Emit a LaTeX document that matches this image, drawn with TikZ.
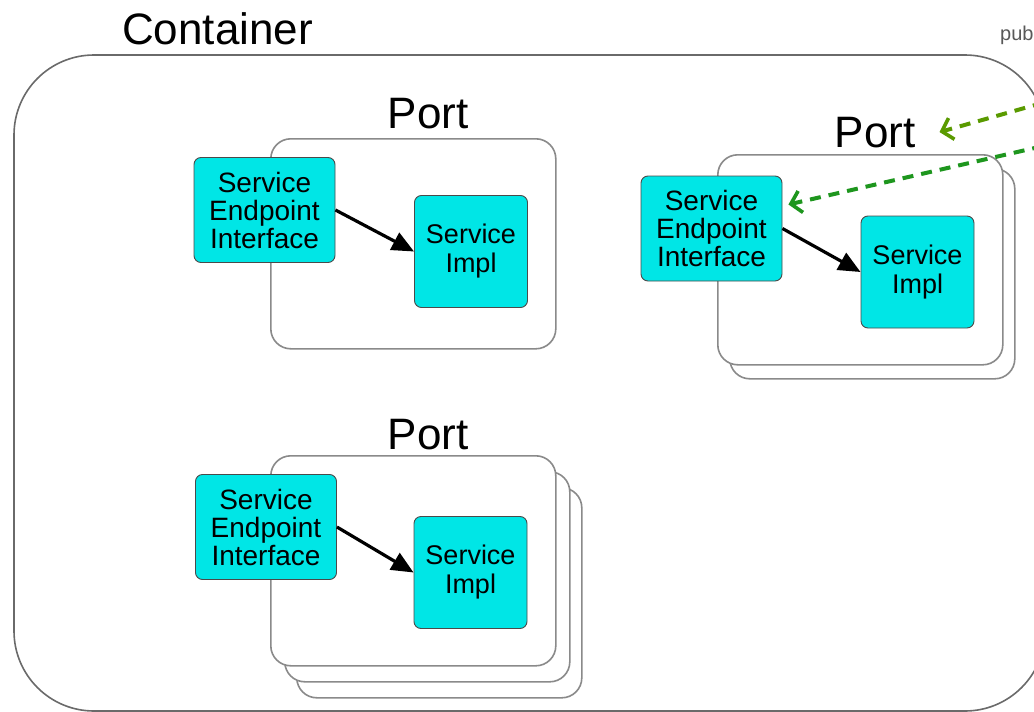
\documentclass[tikz,border=0pt]{standalone}
\usepackage{fontspec}
\setmainfont{Liberation Sans}
\usetikzlibrary{arrows.meta}

\definecolor{boxcyan}{HTML}{00E6E6}
\definecolor{boxedge}{HTML}{4A4A4A}
\definecolor{portedge}{HTML}{8A8A8A}
\definecolor{contedge}{HTML}{6A6A6A}
\definecolor{olivegreen}{HTML}{5A9A00}
\definecolor{linkgreen}{HTML}{1E961E}

\tikzset{
  container/.style={draw=contedge, line width=1.6pt, rounded corners=80pt},
  portbox/.style={draw=portedge, line width=1.6pt, fill=white, rounded corners=20pt,
    minimum width=285pt, minimum height=210pt, inner sep=0pt, anchor=north west},
  portlabel/.style={font=\fontsize{44}{44}\selectfont, anchor=base, inner sep=0pt},
  svcbox/.style={draw=boxedge, line width=0.9pt, fill=boxcyan, rounded corners=7pt,
    align=center, inner sep=0pt},
  seibox/.style={svcbox, minimum width=141pt, minimum height=105pt,
    font=\fontsize{28}{28}\selectfont},
  implbox/.style={svcbox, minimum width=113pt, minimum height=112pt,
    font=\fontsize{27}{29}\selectfont},
  calls/.style={-{Triangle[length=22pt,width=19pt]}, line width=3.2pt, black},
  publink/.style={dashed, dash pattern=on 11pt off 8pt, line width=4pt,
    -{Straight Barb[length=10pt,width=22pt,line width=3.6pt]}}
}

\begin{document}
\begin{tikzpicture}[x=1pt,y=-1pt]
\useasboundingbox (0,0) rectangle (1034,712);
\clip (0,0) rectangle (1034,712);
\fill[white] (0,0) rectangle (1034,712);

% outer container
\draw[container] (14,55) rectangle (1045,711);
\node[anchor=base west, inner sep=0pt, font=\fontsize{44}{44}\selectfont] (contlabel) at (122,44) {Container};
\node[anchor=base west, inner sep=0pt, text=black!65, font=\fontsize{20}{20}\selectfont] (publabel) at (1000,40) {pub};

% port 1 (single)
\node[portbox] (port1) at (270,138) {};
\node[portlabel] (port1label) at (428,128) {Port};
\node[seibox] (sei1) at (264.5,210) {Service\\Endpoint\\Interface};
\node[implbox] (impl1) at (471,251.5) {Service\\Impl};
\draw[calls] (sei1.east) -- (impl1.west);

% port 2 (two instances)
\node[portbox] (port2b) at (729,168) {};
\node[portbox] (port2) at (717,154) {};
\node[portlabel] (port2label) at (875,147) {Port};
\node[seibox] (sei2) at (711.5,228.5) {Service\\Endpoint\\Interface};
\node[implbox] (impl2) at (917.5,272) {Service\\Impl};
\draw[calls] (sei2.east) -- (impl2.west);

% port 3 (three instances)
\node[portbox] (port3c) at (296,487) {};
\node[portbox] (port3b) at (284,471) {};
\node[portbox] (port3) at (270,455) {};
\node[portlabel] (port3label) at (428,449) {Port};
\node[seibox] (sei3) at (266,527) {Service\\Endpoint\\Interface};
\node[implbox] (impl3) at (470.5,572.5) {Service\\Impl};
\draw[calls] (sei3.east) -- (impl3.west);

% publishing links coming in from the right
\coordinate (pubsrc1) at (1080,92.3);
\coordinate (pubsrc2) at (1080,137.6);
\draw[publink, olivegreen] (pubsrc1) -- ([xshift=24pt]port2label.east);
\draw[publink, linkgreen] (pubsrc2) -- ([xshift=6pt,yshift=24pt]sei2.east);
\end{tikzpicture}
\end{document}
